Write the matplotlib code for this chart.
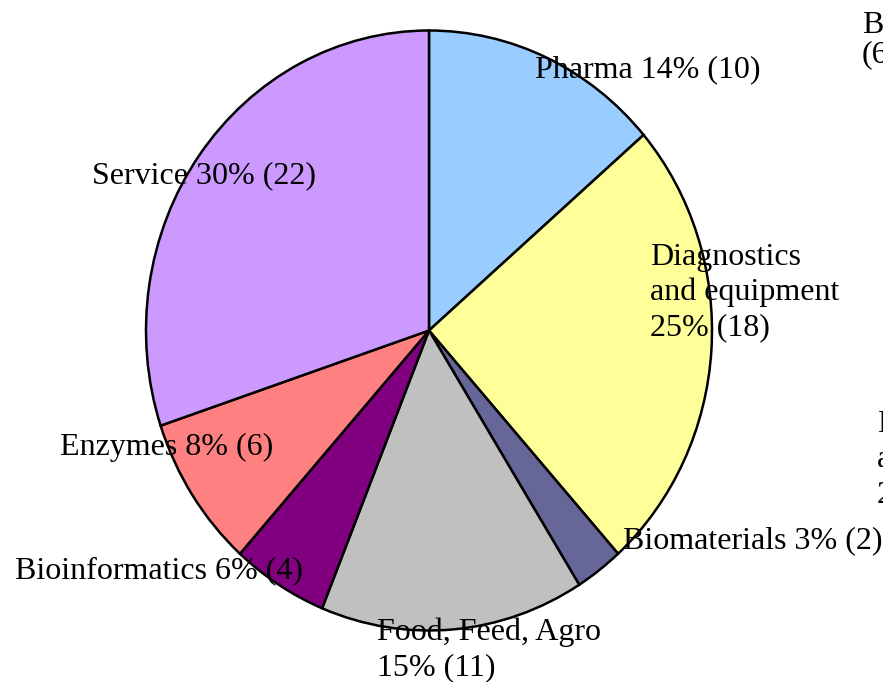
import matplotlib
matplotlib.use("Agg")
import matplotlib.pyplot as plt

categories = ["Pharma", "Diagnostics and equipment", "Biomaterials", "Food, Feed, Agro",
              "Bioinformatics", "Enzymes", "Service"]
counts = [10, 18, 2, 11, 4, 6, 22]
colors = ["#99CCFF", "#FFFF99", "#666699", "#C0C0C0", "#800080", "#FF8080", "#CC99FF"]
labels = ["Pharma 14% (10)", "Diagnostics\nand equipment\n25% (18)", "Biomaterials 3% (2)",
          "Food, Feed, Agro\n15% (11)", "Bioinformatics 6% (4)", "Enzymes 8% (6)",
          "Service 30% (22)"]
# label anchor (left x, last-line baseline y) in pixels
label_px = [(535, 77), (650, 335), (623, 548), (377, 675), (15, 578), (60, 455), (92, 183)]

W, H = 883, 682
fig = plt.figure(figsize=(W / 100, H / 100), dpi=100)
ax = fig.add_axes([0, 0, 1, 1])

cx, cy, rx, ry = 429, 330.5, 283, 300
ax.pie(counts, colors=colors, startangle=90, counterclock=False, radius=1,
       wedgeprops=dict(edgecolor="black", linewidth=1.8))
ax.set_aspect("auto")
ax.set_xlim(-cx / rx, (W - cx) / rx)
ax.set_ylim(-(H - cy) / ry, cy / ry)
ax.axis("off")

font = dict(family="Liberation Serif", size=23, color="black")
for lab, (px, py) in zip(labels, label_px):
    fig.text(px / W, 1 - py / H, lab, ha="left", va="baseline", linespacing=1.26, **font)

# partially clipped labels at right edge (as in the original)
fig.text(862 / W, 1 - 62 / H, "Biomaterials\n(6%)", ha="left", va="baseline", linespacing=0.98, **font)
fig.text(877 / W, 1 - 502 / H, "Diagnostics\nand equipment\n25% (18)", ha="left", va="baseline",
         linespacing=1.26, **font)

fig.savefig("out.png", dpi=100)
